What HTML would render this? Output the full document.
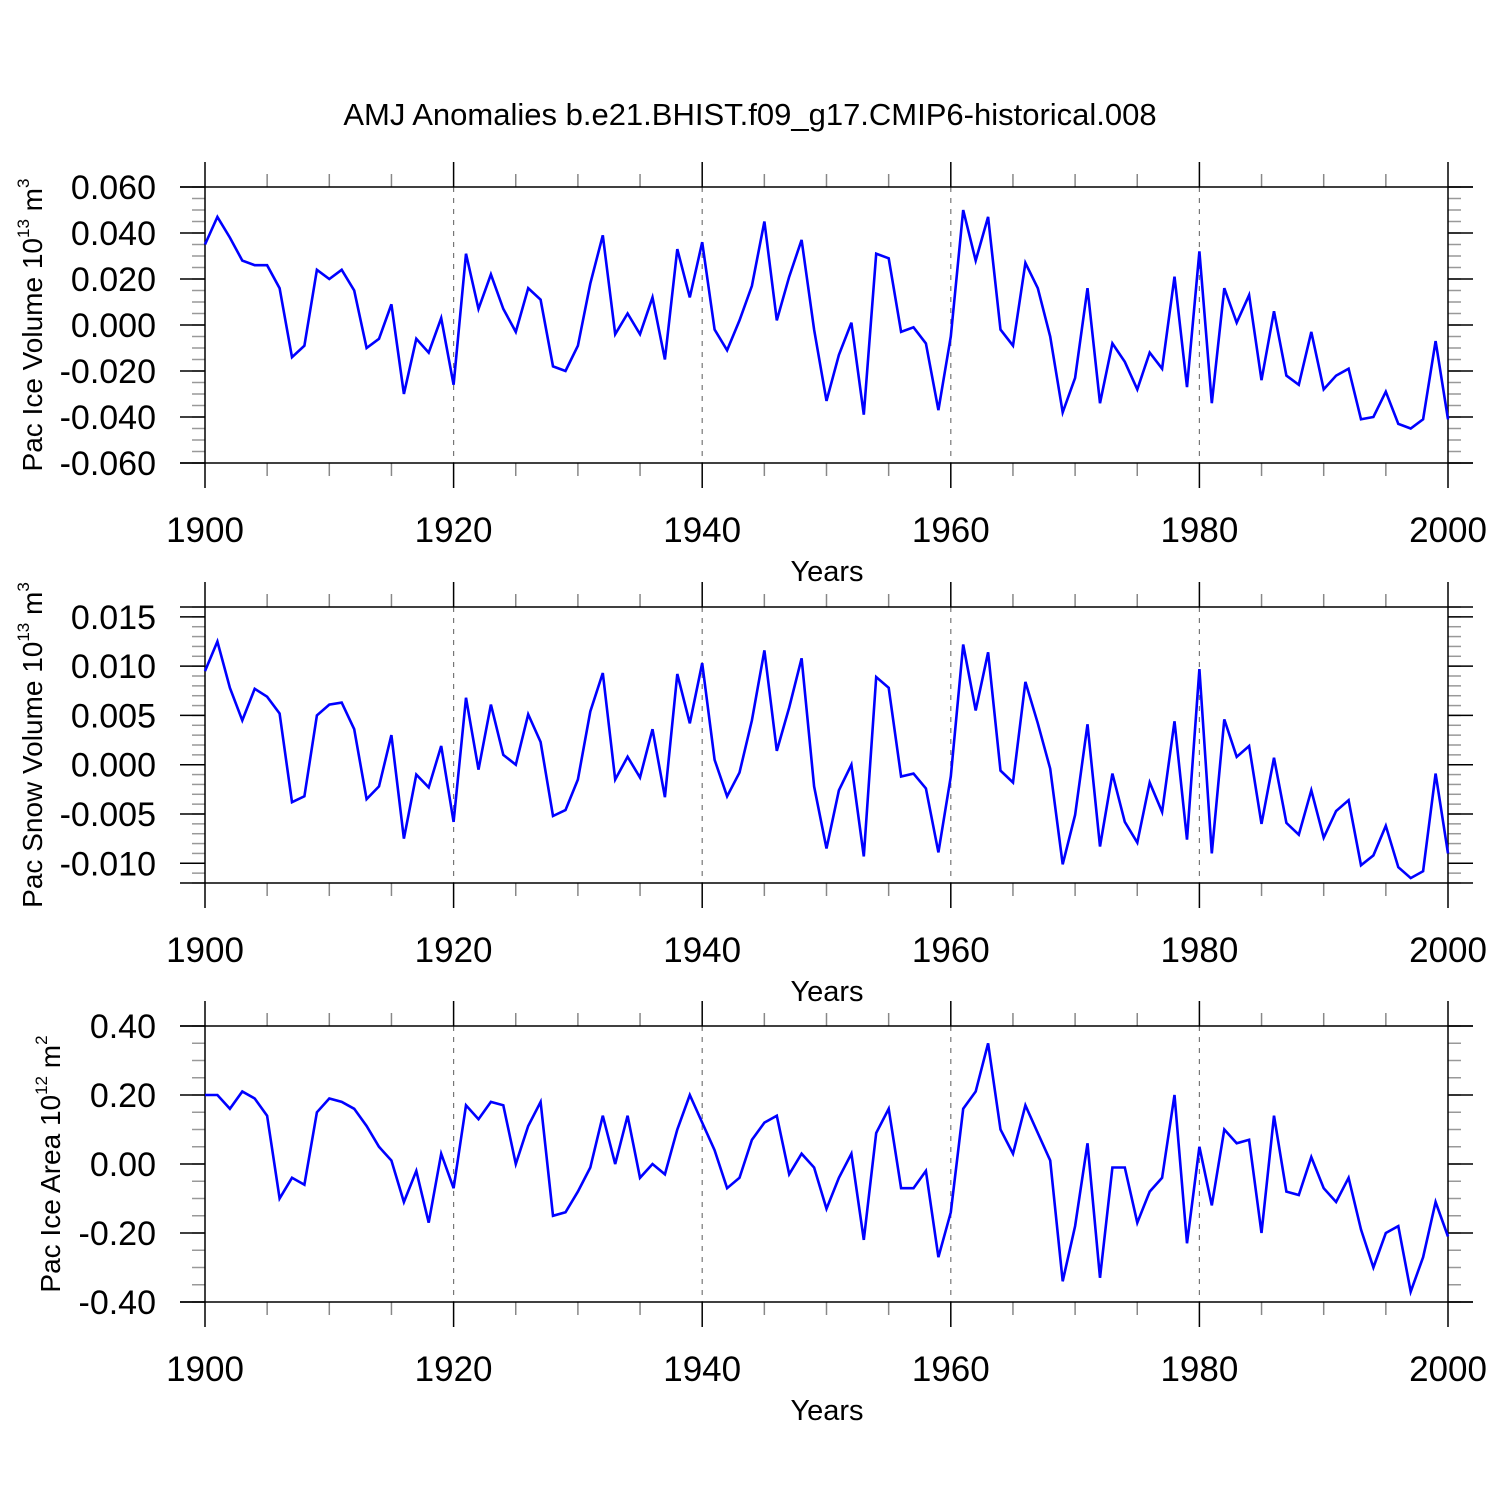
<!DOCTYPE html>
<html><head><meta charset="utf-8"><style>
html,body{margin:0;padding:0;background:#fff}
svg{display:block;font-family:"Liberation Sans",Arial,sans-serif}
</style></head><body>
<svg id="chart" width="1500" height="1500" viewBox="0 0 1500 1500">
<text x="750" y="125" font-size="31" text-anchor="middle">AMJ Anomalies b.e21.BHIST.f09_g17.CMIP6-historical.008</text>
</svg>
<script>
const years=[];for(let y=1900;y<=2000;y++)years.push(y);
const iceVolume=[.035,.047,.038,.028,.026,.026,.016,-.014,-.009,.024,.020,.024,.015,-.010,-.006,.009,-.030,-.006,-.012,.003,-.026,.031,.007,.022,.007,-.003,.016,.011,-.018,-.020,-.009,.018,.039,-.004,.005,-.004,.012,-.015,.033,.012,.036,-.002,-.011,.002,.017,.045,.002,.021,.037,-.002,-.033,-.013,.001,-.039,.031,.029,-.003,-.001,-.008,-.037,-.005,.050,.028,.047,-.002,-.009,.027,.016,-.005,-.038,-.023,.016,-.034,-.008,-.016,-.028,-.012,-.019,.021,-.027,.032,-.034,.016,.001,.013,-.024,.006,-.022,-.026,-.003,-.028,-.022,-.019,-.041,-.040,-.029,-.043,-.045,-.041,-.007,-.041];
const snowVolume=[.0095,.0125,.0078,.0045,.0077,.0069,.0052,-.0038,-.0032,.0050,.0061,.0063,.0036,-.0035,-.0022,.0030,-.0075,-.0010,-.0023,.0019,-.0058,.0068,-.0005,.0061,.0010,.0000,.0051,.0023,-.0052,-.0046,-.0015,.0054,.0093,-.0015,.0008,-.0013,.0036,-.0033,.0092,.0042,.0103,.0005,-.0032,-.0008,.0045,.0116,.0014,.0058,.0108,-.0022,-.0085,-.0026,.0000,-.0093,.0089,.0078,-.0012,-.0009,-.0024,-.0089,-.0012,.0122,.0055,.0114,-.0006,-.0018,.0084,.0042,-.0004,-.0101,-.0051,.0041,-.0083,-.0009,-.0058,-.0079,-.0018,-.0048,.0044,-.0076,.0097,-.0090,.0046,.0008,.0019,-.0060,.0007,-.0059,-.0071,-.0026,-.0074,-.0047,-.0036,-.0102,-.0092,-.0062,-.0104,-.0115,-.0108,-.0009,-.0090];
const iceArea=[.20,.20,.16,.21,.19,.14,-.10,-.04,-.06,.15,.19,.18,.16,.11,.05,.01,-.11,-.02,-.17,.03,-.07,.17,.13,.18,.17,.00,.11,.18,-.15,-.14,-.08,-.01,.14,.00,.14,-.04,.00,-.03,.10,.20,.12,.04,-.07,-.04,.07,.12,.14,-.03,.03,-.01,-.13,-.04,.03,-.22,.09,.16,-.07,-.07,-.02,-.27,-.14,.16,.21,.35,.10,.03,.17,.09,.01,-.34,-.18,.06,-.33,-.01,-.01,-.17,-.08,-.04,.20,-.23,.05,-.12,.10,.06,.07,-.20,.14,-.08,-.09,.02,-.07,-.11,-.04,-.19,-.30,-.20,-.18,-.37,-.27,-.11,-.21];
const xTickLabels=["1900","1920","1940","1960","1980","2000"];
const iceVolTicks=["0.060","0.040","0.020","0.000","-0.020","-0.040","-0.060"];
const snowTicks=["0.015","0.010","0.005","0.000","-0.005","-0.010"];
const areaTicks=["0.40","0.20","0.00","-0.20","-0.40"];

const svg=document.getElementById('chart');
const NS='http://www.w3.org/2000/svg';
function mk(tag,attrs,parent){const e=document.createElementNS(NS,tag);for(const k in attrs)e.setAttribute(k,attrs[k]);(parent||svg).appendChild(e);return e;}
const X0=205,X1=1448;
const xs=y=>X0+(y-1900)/100*(X1-X0);

function panel(name,top,bot,ymin,ymax,data,ticks,minorStep,titleHtml,titleX){
  const g=mk('g',{});
  
  
  const ys=v=>bot-(v-ymin)/(ymax-ymin)*(bot-top);
  for(let yr=1920;yr<=1980;yr+=20){
    const l=mk('line',{x1:xs(yr),x2:xs(yr),y1:top,y2:bot,stroke:'#777','stroke-width':1.2,'stroke-dasharray':'5,6'},g);
    
    
  }
  for(let yr=1905;yr<2000;yr+=5){if(yr%20===0)continue;
    mk('line',{x1:xs(yr),x2:xs(yr),y1:top-13,y2:top,stroke:'#888','stroke-width':1.5},g);
    mk('line',{x1:xs(yr),x2:xs(yr),y1:bot,y2:bot+13,stroke:'#888','stroke-width':1.5},g);}
  for(let yr=1920;yr<2000;yr+=20){
    mk('line',{x1:xs(yr),x2:xs(yr),y1:top-25,y2:top,stroke:'#000','stroke-width':1.5},g);
    mk('line',{x1:xs(yr),x2:xs(yr),y1:bot,y2:bot+25,stroke:'#000','stroke-width':1.5},g);}
  const n=Math.round((ymax-ymin)/minorStep);
  for(let i=0;i<=n;i++){const yy=ys(ymin+i*minorStep);
    mk('line',{x1:X0-13,x2:X0,y1:yy,y2:yy,stroke:'#999','stroke-width':1.5},g);
    mk('line',{x1:X1,x2:X1+13,y1:yy,y2:yy,stroke:'#999','stroke-width':1.5},g);}
  ticks.forEach(t=>{const yy=ys(parseFloat(t));
    mk('line',{x1:X0-25,x2:X0,y1:yy,y2:yy,stroke:'#000','stroke-width':1.5},g);
    mk('line',{x1:X1,x2:X1+25,y1:yy,y2:yy,stroke:'#000','stroke-width':1.5},g);
    const tx=mk('text',{x:156,y:yy+12,'font-size':34,'text-anchor':'end'},g);tx.textContent=t;
    
    });
  mk('line',{x1:X0-25,x2:X1+25,y1:top,y2:top,stroke:'#000','stroke-width':1.5},g);
  mk('line',{x1:X0-25,x2:X1+25,y1:bot,y2:bot,stroke:'#000','stroke-width':1.5},g);
  mk('line',{x1:X0,x2:X0,y1:top-25,y2:bot+25,stroke:'#000','stroke-width':1.5},g);
  mk('line',{x1:X1,x2:X1,y1:top-25,y2:bot+25,stroke:'#000','stroke-width':1.5},g);
  const pts=data.map((v,i)=>xs(years[i]).toFixed(1)+','+ys(v).toFixed(1)).join(' ');
  const pl=mk('polyline',{points:pts,fill:'none',stroke:'#0000ff','stroke-width':2.6,'stroke-linejoin':'miter'},g);
  
  
  xTickLabels.forEach(t=>{const tx=mk('text',{x:xs(+t),y:bot+79,'font-size':35,'text-anchor':'middle'},g);tx.textContent=t;
    
    });
  const xt=mk('text',{x:827,y:bot+118,'font-size':29,'text-anchor':'middle'},g);xt.textContent='Years';
  
  
  const yt=mk('text',{x:0,y:0,'font-size':28,'text-anchor':'middle',transform:`translate(${titleX},${(top+bot)/2}) rotate(-90)`},g);
  yt.innerHTML=titleHtml;
  
  
}
panel('ice-volume',187,463,-0.06,0.06,iceVolume,iceVolTicks,0.005,'Pac Ice Volume 10<tspan font-size="17" dy="-13">13</tspan><tspan dy="13"> m</tspan><tspan font-size="17" dy="-13">3</tspan>',42);
panel('snow-volume',607,883,-0.012,0.016,snowVolume,snowTicks,0.001,'Pac Snow Volume 10<tspan font-size="17" dy="-13">13</tspan><tspan dy="13"> m</tspan><tspan font-size="17" dy="-13">3</tspan>',42);
panel('ice-area',1026,1302,-0.4,0.4,iceArea,areaTicks,0.05,'Pac Ice Area 10<tspan font-size="17" dy="-13">12</tspan><tspan dy="13"> m</tspan><tspan font-size="17" dy="-13">2</tspan>',60);
</script>
</body></html>
